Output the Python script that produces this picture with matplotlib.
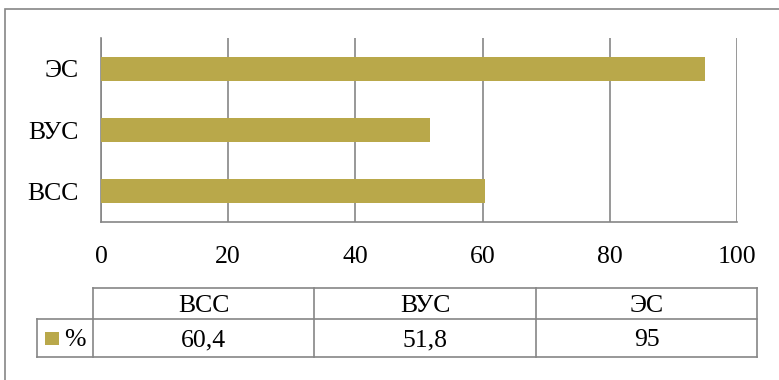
import matplotlib
matplotlib.use("Agg")
import matplotlib.pyplot as plt
from matplotlib.patches import Rectangle
from matplotlib.lines import Line2D

# Data
categories = ["ВСС", "ВУС", "ЭС"]
values = [60.4, 51.8, 95]
series_name = "%"
x_ticks = [0, 20, 40, 60, 80, 100]

W, H = 779, 380
BAR = "#B9A84A"
GRID = "#868686"
FS = 18.5
FAM = ["Liberation Serif", "DejaVu Serif"]
TXT = dict(fontsize=FS, family=FAM)

plt.rcParams["font.family"] = FAM

fig = plt.figure(figsize=(W / 100, H / 100), dpi=100)


def fx(x):
    return x / W


def fy(y):
    return 1 - y / H


# Outer chart frame (runs off the right and bottom edges)
fig.add_artist(Rectangle((fx(5), fy(420)), fx(820), (420 - 9) / H,
                         transform=fig.transFigure, fill=False, edgecolor=GRID, lw=1.2))

# Plot area
left, right, top, bottom = 101, 737, 38, 222
ax = fig.add_axes([fx(left), fy(bottom), fx(right - left), (bottom - top) / H])
ypos = list(range(len(categories)))
ax.barh(ypos, values, height=0.39, color=BAR, zorder=3)
ax.set_xlim(0, 100)
ax.set_ylim(-0.5, len(categories) - 0.5)
ax.set_xticks(x_ticks)
ax.set_xticklabels([str(t) for t in x_ticks], **TXT)
ax.set_yticks(ypos)
ax.set_yticklabels(categories, **TXT)
ax.tick_params(axis="both", length=0)
ax.tick_params(axis="x", pad=17)
ax.tick_params(axis="y", pad=16)
ax.grid(axis="x", color=GRID, lw=1.2, zorder=0)
for s in ["top", "right"]:
    ax.spines[s].set_visible(False)
for s in ["left", "bottom"]:
    ax.spines[s].set_color(GRID)
    ax.spines[s].set_linewidth(1.2)

# Data table under the axis
col_edges = [93, 314, 536, 757]
label_left = 37
r0, r1, r2 = 288, 319, 357


def hline(x0, x1, y):
    fig.add_artist(Line2D([fx(x0), fx(x1)], [fy(y), fy(y)], transform=fig.transFigure,
                          color=GRID, lw=1.2))


def vline(x, y0, y1):
    fig.add_artist(Line2D([fx(x), fx(x)], [fy(y0), fy(y1)], transform=fig.transFigure,
                          color=GRID, lw=1.2))


hline(col_edges[0], col_edges[-1], r0)
hline(label_left, col_edges[-1], r1)
hline(label_left, col_edges[-1], r2)
vline(label_left, r1, r2)
for x in col_edges:
    vline(x, r0, r2)

for i, (cat, val) in enumerate(zip(categories, values)):
    cx = (col_edges[i] + col_edges[i + 1]) / 2
    fig.text(fx(cx), fy((r0 + r1) / 2), cat, ha="center", va="center_baseline", **TXT)
    txt = f"{val:g}".replace(".", ",")
    fig.text(fx(cx), fy((r1 + r2) / 2), txt, ha="center", va="center_baseline", **TXT)

# Legend key in the row header
fig.add_artist(Rectangle((fx(45), fy(345)), fx(14), 13 / H, transform=fig.transFigure,
                         facecolor=BAR, edgecolor="none"))
fig.text(fx(64), fy((r1 + r2) / 2), series_name, ha="left", va="center_baseline", **TXT)

fig.savefig("out.png", dpi=100, facecolor="white")
